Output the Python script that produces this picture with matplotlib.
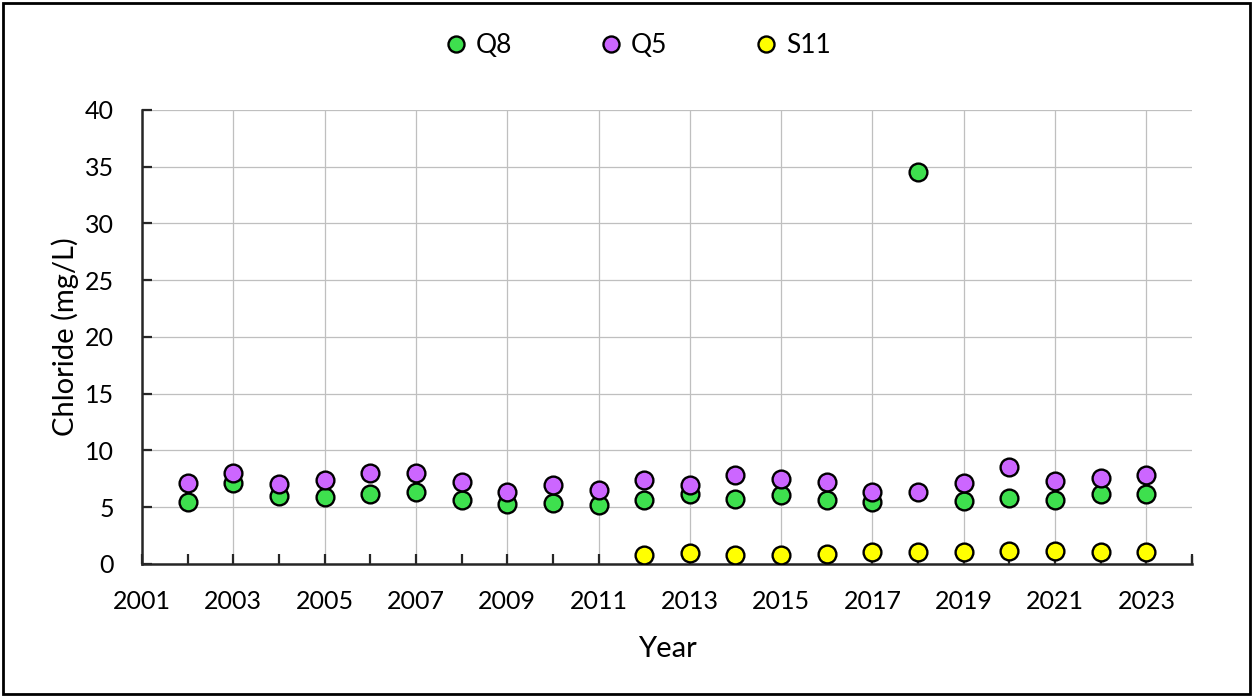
import matplotlib.pyplot as plt
from matplotlib.patches import Rectangle
from matplotlib.ticker import MultipleLocator

plt.rcParams['font.family'] = ['Lato', 'DejaVu Sans']

# Annual chloride concentrations (mg/L)
years = list(range(2002, 2024))
q8 = [5.5, 7.1, 6.0, 5.9, 6.15, 6.3, 5.65, 5.25, 5.4, 5.2,
      5.65, 6.2, 5.75, 6.05, 5.65, 5.45, 34.5, 5.55, 5.8, 5.65, 6.15, 6.2]
q5 = [7.1, 8.05, 7.05, 7.4, 8.0, 8.0, 7.2, 6.3, 6.95, 6.5,
      7.4, 6.95, 7.8, 7.5, 7.25, 6.35, 6.3, 7.1, 8.5, 7.35, 7.55, 7.85]
s11_years = list(range(2012, 2024))
s11 = [0.8, 0.95, 0.8, 0.8, 0.9, 1.05, 1.05, 1.05, 1.1, 1.15, 1.05, 1.05]

fig = plt.figure(figsize=(12.54, 6.96), dpi=100)
ax = fig.add_axes([0.1132, 0.1897, 0.8374, 0.6523])

marker_style = dict(linestyle="none", marker="o", markersize=12.8,
                    markeredgecolor="black", markeredgewidth=1.7, zorder=3)
ax.plot(years, q8, markerfacecolor="#3ee04e", label="Q8", **marker_style)
ax.plot(years, q5, markerfacecolor="#cc66ff", label="Q5", **marker_style)
ax.plot(s11_years, s11, markerfacecolor="#ffff00", label="S11", **marker_style)

ax.set_xlim(2001, 2024)
ax.set_ylim(0, 40)
ax.yaxis.set_major_locator(MultipleLocator(5))
ax.set_xticks(list(range(2001, 2025, 2)))
ax.set_xticks(list(range(2001, 2025)), minor=True)
ax.set_xticklabels([str(y) for y in range(2001, 2025, 2)])

ax.grid(True, which="major", color="#bfbfbf", linewidth=0.9, zorder=0)
for side in ["top", "right"]:
    ax.spines[side].set_visible(False)
for side in ["left", "bottom"]:
    ax.spines[side].set_linewidth(1.8)
    ax.spines[side].set_color("#262626")

ax.tick_params(axis="both", which="both", direction="in", length=7, width=1.6,
               color="#262626", labelsize=18)
ax.tick_params(axis="x", which="major", pad=19)
ax.tick_params(axis="y", which="major", pad=20)
ax.set_axisbelow(True)
# last tick at the right end of the x axis
ax.plot([2024, 2024], [0, 0.6], color="#262626", linewidth=1.6, clip_on=False)

ax.set_xlabel("Year", fontsize=21, labelpad=16)
ax.set_ylabel("Chloride (mg/L)", fontsize=21, labelpad=4)

fig.legend(loc="center", bbox_to_anchor=(0.5076, 0.935), ncol=3,
           frameon=False, fontsize=19, handlelength=1.0, handletextpad=0.25,
           columnspacing=3.25, markerscale=0.9)

fig.patches.append(Rectangle((0.002, 0.003), 0.995, 0.993, transform=fig.transFigure,
                             fill=False, edgecolor="black", linewidth=2))

fig.savefig("out.png", dpi=100)
